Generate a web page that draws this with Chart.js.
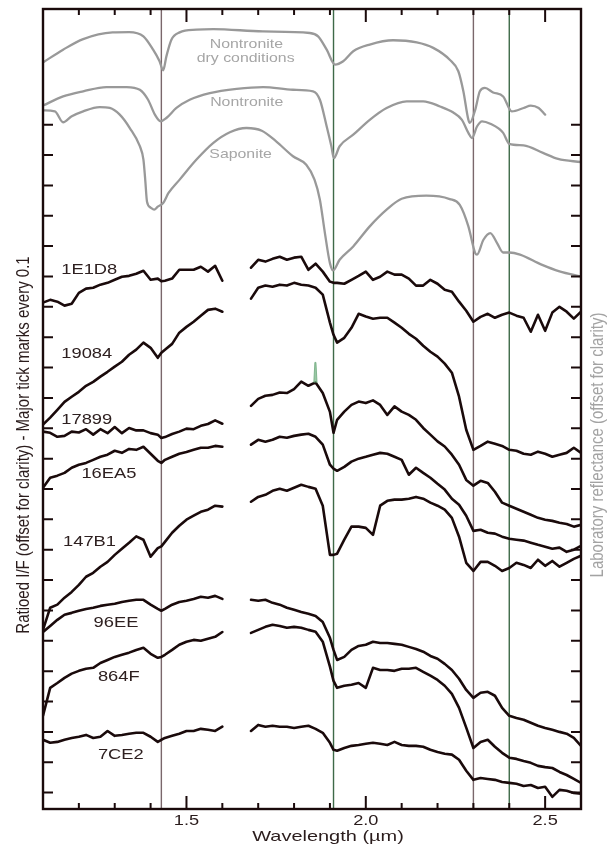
<!DOCTYPE html>
<html>
<head>
<meta charset="utf-8">
<title>Ratioed I/F spectra</title>
<script src="https://cdn.jsdelivr.net/npm/chart.js@4.4.1/dist/chart.umd.min.js"></script>
<style>
  html, body { margin: 0; padding: 0; background: #fff; }
  canvas { display: block; }
</style>
</head>
<body>
<canvas id="chart" width="608" height="846"></canvas>
<script>
// wavelength grids (µm) - gap between 1.60 and 1.68
const wlLeft = [1.10,1.12,1.14,1.16,1.18,1.20,1.22,1.24,1.26,1.28,1.30,1.32,1.34,1.36,1.38,1.40,1.42,1.43,1.44,1.46,1.48,1.50,1.52,1.54,1.56,1.58,1.60];
const wlRight = [1.68,1.70,1.72,1.74,1.76,1.78,1.80,1.82,1.84,1.86,1.88,1.90,1.91,1.92,1.94,1.96,1.98,2.00,2.02,2.04,2.06,2.08,2.10,2.12,2.14,2.16,2.18,2.20,2.22,2.24,2.26,2.28,2.30,2.32,2.34,2.36,2.38,2.40,2.42,2.44,2.46,2.48,2.50,2.52,2.54,2.56,2.58,2.60];

// ratioed I/F spectra (offset for clarity)
const s1E1D8L = [1.614,1.623,1.617,1.604,1.610,1.646,1.660,1.663,1.673,1.679,1.689,1.699,1.702,1.709,1.719,1.689,1.693,1.684,1.686,1.693,1.722,1.722,1.722,1.732,1.716,1.735,1.686];
const s1E1D8R = [1.729,1.755,1.749,1.758,1.765,1.755,1.762,1.765,1.722,1.742,1.716,1.683,1.679,1.679,1.676,1.689,1.702,1.716,1.689,1.699,1.716,1.706,1.706,1.693,1.670,1.670,1.689,1.676,1.656,1.650,1.617,1.587,1.551,1.567,1.577,1.564,1.574,1.581,1.571,1.564,1.518,1.574,1.521,1.581,1.600,1.584,1.561,1.584];
const s19084L = [1.212,1.235,1.261,1.287,1.304,1.320,1.340,1.353,1.370,1.386,1.403,1.419,1.442,1.459,1.482,1.465,1.432,1.449,1.459,1.478,1.515,1.534,1.551,1.571,1.590,1.594,1.584];
const s19084R = [1.627,1.663,1.670,1.666,1.673,1.670,1.679,1.673,1.670,1.663,1.640,1.548,1.508,1.482,1.498,1.531,1.577,1.568,1.561,1.564,1.564,1.548,1.531,1.511,1.495,1.472,1.452,1.436,1.413,1.383,1.304,1.195,1.129,1.142,1.156,1.149,1.142,1.129,1.126,1.116,1.113,1.123,1.116,1.106,1.113,1.119,1.136,1.119];
const s17899L = [1.189,1.185,1.172,1.175,1.189,1.186,1.197,1.179,1.197,1.184,1.204,1.184,1.201,1.193,1.193,1.184,1.179,1.168,1.171,1.181,1.189,1.199,1.197,1.208,1.214,1.226,1.215];
const s17899R = [1.274,1.297,1.307,1.310,1.318,1.316,1.329,1.354,1.340,1.351,1.316,1.254,1.185,1.228,1.255,1.277,1.288,1.283,1.292,1.277,1.244,1.272,1.255,1.244,1.228,1.201,1.179,1.157,1.140,1.113,1.080,1.030,1.011,1.027,1.020,0.991,0.955,0.945,0.935,0.925,0.915,0.905,0.899,0.895,0.889,0.885,0.876,0.882];
const s16EA5L = [1.004,1.037,1.044,1.053,1.070,1.080,1.086,1.096,1.106,1.113,1.126,1.119,1.132,1.129,1.139,1.116,1.093,1.086,1.096,1.106,1.116,1.122,1.129,1.136,1.136,1.142,1.139];
const s16EA5R = [1.146,1.162,1.156,1.162,1.172,1.169,1.175,1.179,1.182,1.172,1.146,1.080,1.067,1.060,1.073,1.090,1.100,1.106,1.113,1.119,1.116,1.106,1.096,1.047,1.070,1.053,1.037,1.017,0.998,0.968,0.948,0.912,0.862,0.866,0.856,0.853,0.843,0.836,0.833,0.830,0.823,0.816,0.810,0.803,0.807,0.793,0.800,0.813];
const s147B1L = [0.536,0.609,0.619,0.642,0.661,0.684,0.711,0.724,0.744,0.760,0.783,0.803,0.823,0.844,0.833,0.777,0.805,0.811,0.826,0.856,0.879,0.899,0.912,0.925,0.932,0.945,0.942];
const s147B1R = [0.958,0.974,0.981,0.994,1.001,0.994,1.004,1.014,1.007,1.001,0.945,0.783,0.783,0.787,0.833,0.876,0.876,0.872,0.849,0.945,0.961,0.965,0.965,0.968,0.974,0.968,0.955,0.945,0.932,0.905,0.843,0.757,0.730,0.760,0.760,0.747,0.730,0.740,0.757,0.750,0.740,0.767,0.747,0.763,0.744,0.757,0.770,0.780];
const s96EEL = [0.529,0.549,0.569,0.586,0.592,0.599,0.605,0.609,0.615,0.619,0.622,0.628,0.632,0.635,0.635,0.619,0.605,0.599,0.605,0.619,0.628,0.632,0.638,0.645,0.642,0.648,0.638];
const s96EER = [0.635,0.632,0.635,0.625,0.619,0.609,0.602,0.595,0.589,0.582,0.562,0.510,0.470,0.437,0.447,0.470,0.483,0.487,0.497,0.493,0.493,0.490,0.487,0.480,0.473,0.464,0.450,0.441,0.424,0.404,0.375,0.338,0.312,0.329,0.332,0.319,0.279,0.253,0.246,0.240,0.230,0.220,0.213,0.207,0.200,0.194,0.180,0.154];
const s864FL = [0.253,0.345,0.361,0.378,0.392,0.401,0.408,0.411,0.427,0.437,0.447,0.454,0.461,0.470,0.477,0.457,0.444,0.447,0.454,0.470,0.487,0.497,0.503,0.500,0.507,0.513,0.529];
const s864FR = [0.526,0.536,0.546,0.553,0.549,0.543,0.546,0.543,0.536,0.530,0.497,0.415,0.368,0.345,0.352,0.355,0.361,0.345,0.411,0.404,0.404,0.401,0.408,0.408,0.411,0.398,0.385,0.371,0.352,0.325,0.279,0.214,0.147,0.167,0.174,0.151,0.131,0.115,0.111,0.104,0.098,0.088,0.084,0.081,0.068,0.058,0.045,0.032];
const s7CE2L = [0.174,0.164,0.167,0.174,0.180,0.184,0.190,0.180,0.184,0.203,0.187,0.190,0.194,0.197,0.197,0.184,0.167,0.174,0.180,0.187,0.194,0.203,0.203,0.210,0.207,0.203,0.217];
const s7CE2R = [0.203,0.223,0.217,0.220,0.217,0.217,0.213,0.217,0.220,0.210,0.197,0.164,0.141,0.138,0.147,0.154,0.157,0.161,0.164,0.161,0.157,0.167,0.157,0.154,0.154,0.151,0.141,0.134,0.128,0.125,0.108,0.072,0.042,0.048,0.045,0.042,0.035,0.032,0.029,0.022,0.025,0.015,0.019,-0.014,0.009,0.006,-0.001,-0.004];

// laboratory reflectance spectra (offset for clarity)
const dryWl = [1.10,1.156,1.212,1.294,1.34,1.38,1.407,1.425,1.435,1.444,1.458,1.481,1.528,1.575,1.713,1.844,1.867,1.891,1.914,1.937,1.965,2.011,2.076,2.142,2.188,2.234,2.258,2.272,2.286,2.29,2.305,2.318,2.332,2.355,2.383,2.407,2.44,2.46,2.482,2.50];
const dryVal = [2.405,2.447,2.482,2.504,2.505,2.491,2.447,2.409,2.379,2.425,2.480,2.504,2.513,2.515,2.507,2.502,2.491,2.447,2.398,2.409,2.442,2.464,2.478,2.471,2.453,2.414,2.376,2.310,2.216,2.206,2.249,2.310,2.321,2.306,2.293,2.244,2.255,2.263,2.255,2.233];
const nonWl = [1.10,1.156,1.212,1.277,1.333,1.37,1.393,1.412,1.428,1.444,1.472,1.509,1.565,1.64,1.714,1.797,1.853,1.872,1.891,1.904,1.911,1.927,1.965,2.011,2.058,2.114,2.16,2.207,2.244,2.268,2.286,2.296,2.31,2.324,2.347,2.383,2.40,2.44,2.494,2.536,2.60];
const nonVal = [2.263,2.293,2.310,2.324,2.324,2.315,2.282,2.233,2.211,2.222,2.255,2.282,2.304,2.318,2.324,2.315,2.310,2.282,2.194,2.129,2.090,2.129,2.167,2.216,2.255,2.277,2.277,2.260,2.240,2.216,2.173,2.156,2.194,2.211,2.203,2.173,2.137,2.132,2.107,2.087,2.077];
const sapWl = [1.10,1.133,1.156,1.179,1.212,1.258,1.286,1.314,1.342,1.37,1.38,1.385,1.39,1.40,1.41,1.42,1.435,1.45,1.481,1.528,1.575,1.621,1.667,1.71,1.75,1.797,1.834,1.857,1.872,1.886,1.90,1.909,1.927,1.965,2.011,2.058,2.10,2.169,2.234,2.262,2.286,2.305,2.31,2.328,2.347,2.366,2.383,2.40,2.43,2.49,2.54,2.60];
const sapVal = [2.247,2.244,2.208,2.227,2.244,2.258,2.255,2.233,2.189,2.129,2.085,2.019,1.946,1.927,1.920,1.930,1.942,1.975,2.019,2.085,2.140,2.175,2.189,2.180,2.145,2.096,2.068,2.019,1.953,1.843,1.744,1.720,1.755,1.799,1.865,1.920,1.956,1.966,1.955,1.936,1.865,1.777,1.772,1.821,1.843,1.810,1.779,1.779,1.772,1.739,1.717,1.700];

// small green spike on 17899
const spikeWl = [1.855,1.858,1.861,1.864];
const spikeVal = [1.351,1.417,1.417,1.351];

// band positions marked by vertical lines
const markerWl = [1.43, 1.91, 2.30, 2.40];
const markerColors = ['#7a676b', '#3e6a48', '#7a676b', '#3e6a48'];

// axes
const xMin = 1.1, xMax = 2.6;
const yMin = -0.054, yMax = 2.581;
const xMajorTicks = [1.5, 2.0, 2.5];
const xMinorTicks = [1.2, 1.3, 1.4, 1.6, 1.7, 1.8, 1.9, 2.1, 2.2, 2.3, 2.4];
const yTicks = [0.0,0.1,0.2,0.3,0.4,0.5,0.6,0.7,0.8,0.9,1.0,1.1,1.2,1.3,1.4,1.5,1.6,1.7,1.8,1.9,2.0,2.1,2.2];

// curve labels: [text, wavelength, value, align, colour]
const curveLabels = [
  ['1E1D8', 1.151, 1.709, 'left', 'dark'],
  ['19084', 1.151, 1.431, 'left', 'dark'],
  ['17899', 1.151, 1.215, 'left', 'dark'],
  ['16EA5', 1.207, 1.036, 'left', 'dark'],
  ['147B1', 1.156, 0.811, 'left', 'dark'],
  ['96EE', 1.241, 0.547, 'left', 'dark'],
  ['864F', 1.253, 0.366, 'left', 'dark'],
  ['7CE2', 1.253, 0.111, 'left', 'dark'],
  ['Nontronite', 1.667, 2.453, 'center', 'lab'],
  ['dry conditions', 1.665, 2.405, 'center', 'lab'],
  ['Nontronite', 1.668, 2.260, 'center', 'lab'],
  ['Saponite', 1.651, 2.090, 'center', 'lab']
];

const DARK = '#1a0a0b';
const LAB = '#999999';
const FONT = '"Liberation Sans", Arial, Helvetica, sans-serif';

function spectrum(left, right) {
  return left.map((v, i) => ({ x: wlLeft[i], y: v }))
    .concat([{ x: 1.64, y: null }])
    .concat(right.map((v, i) => ({ x: wlRight[i], y: v })));
}
function pairs(wl, vals) {
  return wl.map((w, i) => ({ x: w, y: vals[i] }));
}

const datasets = [];
[[s1E1D8L, s1E1D8R], [s19084L, s19084R], [s17899L, s17899R], [s16EA5L, s16EA5R],
 [s147B1L, s147B1R], [s96EEL, s96EER], [s864FL, s864FR], [s7CE2L, s7CE2R]].forEach(p => {
  datasets.push({ data: spectrum(p[0], p[1]), borderColor: DARK, borderWidth: 2.6, tension: 0, order: 1 });
});
[[dryWl, dryVal], [nonWl, nonVal], [sapWl, sapVal]].forEach(p => {
  datasets.push({ data: pairs(p[0], p[1]), borderColor: LAB, borderWidth: 2.3, cubicInterpolationMode: 'monotone', order: 2 });
});
datasets.push({
  data: pairs(spikeWl, spikeVal), borderColor: 'rgba(110,170,125,0.8)', borderWidth: 1,
  backgroundColor: 'rgba(120,180,135,0.75)', fill: { value: spikeVal[0] }, order: 0
});
markerWl.forEach((w, i) => {
  datasets.push({ data: [{ x: w, y: yMin }, { x: w, y: yMax }], borderColor: markerColors[i], borderWidth: 1.4, order: 3 });
});

// stretched text, the figure is wider than its font
function drawText(ctx, text, x, y, align, size, color, sx) {
  ctx.save();
  ctx.font = size + 'px ' + FONT;
  ctx.fillStyle = color;
  ctx.textAlign = align;
  ctx.textBaseline = 'alphabetic';
  ctx.translate(x, y);
  ctx.scale(sx, 1);
  ctx.fillText(text, 0, 0);
  ctx.restore();
}
function drawVertical(ctx, text, x, y, size, color) {
  ctx.save();
  ctx.font = size + 'px ' + FONT;
  ctx.fillStyle = color;
  ctx.textAlign = 'center';
  ctx.textBaseline = 'middle';
  ctx.translate(x, y);
  ctx.rotate(-Math.PI / 2);
  ctx.scale(1, 1.2);
  ctx.fillText(text, 0, 0);
  ctx.restore();
}

const framePlugin = {
  id: 'frame',
  afterDraw(chart) {
    const { ctx, chartArea: a, scales: { x, y } } = chart;
    ctx.save();
    ctx.strokeStyle = DARK;
    ctx.lineWidth = 2;
    ctx.beginPath();
    xMinorTicks.forEach(t => {
      const px = x.getPixelForValue(t);
      ctx.moveTo(px, a.bottom); ctx.lineTo(px, a.bottom - 6);
      ctx.moveTo(px, a.top); ctx.lineTo(px, a.top + 6);
    });
    xMajorTicks.forEach(t => {
      const px = x.getPixelForValue(t);
      ctx.moveTo(px, a.bottom); ctx.lineTo(px, a.bottom - 13);
      ctx.moveTo(px, a.top); ctx.lineTo(px, a.top + 13);
    });
    yTicks.forEach(t => {
      const py = y.getPixelForValue(t);
      ctx.moveTo(a.left, py); ctx.lineTo(a.left + 10, py);
      ctx.moveTo(a.right, py); ctx.lineTo(a.right - 10, py);
    });
    ctx.stroke();
    ctx.lineWidth = 2.4;
    ctx.strokeRect(a.left, a.top, a.right - a.left, a.bottom - a.top);
    ctx.restore();

    xMajorTicks.forEach(t => {
      drawText(ctx, t.toFixed(1), x.getPixelForValue(t), a.bottom + 16, 'center', 14, '#2a1c1c', 1.3);
    });
    drawText(ctx, 'Wavelength (µm)', (a.left + a.right) / 2 + 16, a.bottom + 32, 'center', 15, '#2a1c1c', 1.33);

    curveLabels.forEach(l => {
      const lab = l[4] === 'lab';
      drawText(ctx, l[0], x.getPixelForValue(l[1]), y.getPixelForValue(l[2]), l[3],
        lab ? 13 : 15, lab ? '#a6a6a6' : '#2e2020', 1.22);
    });

    drawVertical(ctx, 'Ratioed I/F (offset for clarity) - Major tick marks every 0.1', 24, 445, 15, '#2a1c1c');
    drawVertical(ctx, 'Laboratory reflectance (offset for clarity)', 598, 445, 15, '#a3a3a3');
  }
};

new Chart(document.getElementById('chart'), {
  type: 'line',
  data: { datasets },
  options: {
    responsive: false,
    animation: false,
    layout: { padding: { left: 43, right: 27, top: 9, bottom: 0 } },
    elements: { point: { radius: 0 }, line: { borderCapStyle: 'round', borderJoinStyle: 'round' } },
    plugins: { legend: { display: false }, tooltip: { enabled: false } },
    scales: {
      x: {
        type: 'linear', min: xMin, max: xMax,
        grid: { display: false }, border: { display: false },
        ticks: { display: false },
        afterFit: s => { s.height = 37; }
      },
      y: {
        type: 'linear', min: yMin, max: yMax,
        grid: { display: false }, border: { display: false },
        ticks: { display: false },
        afterFit: s => { s.width = 0; }
      }
    }
  },
  plugins: [framePlugin]
});
</script>
</body>
</html>
